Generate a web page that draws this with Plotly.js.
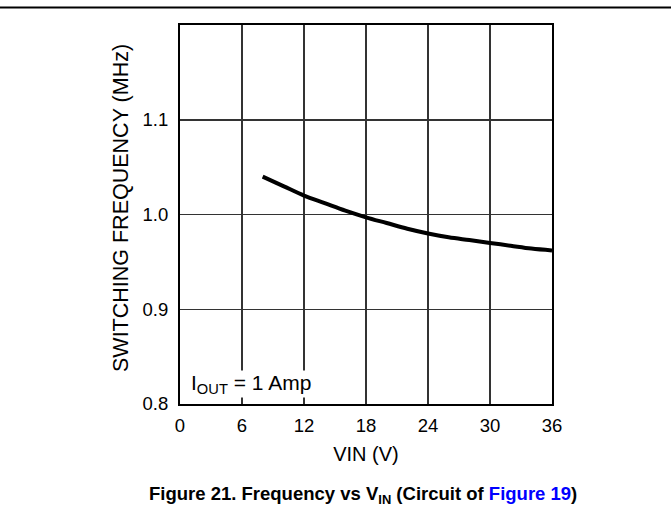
<!DOCTYPE html>
<html>
<head>
<meta charset="utf-8">
<script src="https://cdn.plot.ly/plotly-3.0.1.min.js"></script>
<style>html,body{margin:0;padding:0;background:#fff;}#chart{width:671px;height:518px;}</style>
</head>
<body>
<div id="chart"></div>
<script>
const vin = [8, 10, 12, 14, 16, 18, 20, 22, 24, 26, 28, 30, 32, 34, 36];
const freq = [1.040, 1.030, 1.020, 1.012, 1.004, 0.997, 0.991, 0.985, 0.980, 0.976, 0.973, 0.970, 0.967, 0.964, 0.962];
const xTicks = [0, 6, 12, 18, 24, 30, 36];
const yTicks = [0.8, 0.9, 1.0, 1.1];
const yTickText = ['0.8', '0.9', '1.0', '1.1'];

const fam = 'Liberation Sans, Arial, sans-serif';
const tickFont = {family: fam, size: 18.5, color: '#000'};
const titleFont = {family: fam, size: 20, color: '#000'};
const L = 180, R = 119, T = 25, B = 114;
const pw = 671 - L - R, ph = 518 - T - B;
const px = v => (v - L) / pw;
const py = v => (T + ph - v) / ph;

Plotly.newPlot('chart', [{
  x: vin, y: freq, type: 'scatter', mode: 'lines',
  line: {color: '#000', width: 4, shape: 'spline'}, hoverinfo: 'skip', showlegend: false
}], {
  width: 671, height: 518,
  margin: {l: L, r: R, t: T, b: B},
  paper_bgcolor: '#fff', plot_bgcolor: '#fff',
  font: tickFont,
  xaxis: {
    range: [0, 36], tickvals: xTicks, ticktext: xTicks.map(String),
    showgrid: true, gridcolor: '#333', gridwidth: 1.5,
    showline: true, linecolor: '#000', linewidth: 2, mirror: true,
    ticks: '', zeroline: false, tickfont: tickFont, ticklabelstandoff: 4,
    title: {text: 'VIN (V)', font: titleFont, standoff: 12}
  },
  yaxis: {
    range: [0.8, 1.2], tickvals: yTicks, ticktext: yTickText,
    showgrid: true, gridcolor: '#333', gridwidth: 1.5,
    showline: true, linecolor: '#000', linewidth: 2, mirror: true,
    ticks: '', zeroline: false, tickfont: tickFont, ticklabelstandoff: 6
  },
  annotations: [
    {x: px(121), y: py(208), xref: 'paper', yref: 'paper', xanchor: 'center', yanchor: 'middle',
     textangle: -90, text: 'SWITCHING FREQUENCY (MHz)', showarrow: false,
     font: {family: fam, size: 21.5, color: '#000'}},
    {x: 1, y: 0.806, xref: 'x', yref: 'y', xanchor: 'left', yanchor: 'bottom',
     text: 'I<sub>OUT</sub> = 1 Amp', showarrow: false, font: {family: fam, size: 21, color: '#000'}, bgcolor: '#fff', borderpad: 0},
    {x: px(363), y: py(495), xref: 'paper', yref: 'paper', xanchor: 'center', yanchor: 'middle',
     text: '<b>Figure 21. Frequency vs V<sub>IN</sub> (Circuit of <span style="color:#0000ff">Figure 19</span>)</b>',
     showarrow: false, font: {family: fam, size: 18.5, color: '#000'}}
  ],
  shapes: [
    {type: 'line', xref: 'paper', yref: 'paper', x0: px(0), x1: px(671),
     y0: py(7.5), y1: py(7.5), line: {color: '#000', width: 2}}
  ]
}, {displayModeBar: false, staticPlot: true});
</script>
</body>
</html>
